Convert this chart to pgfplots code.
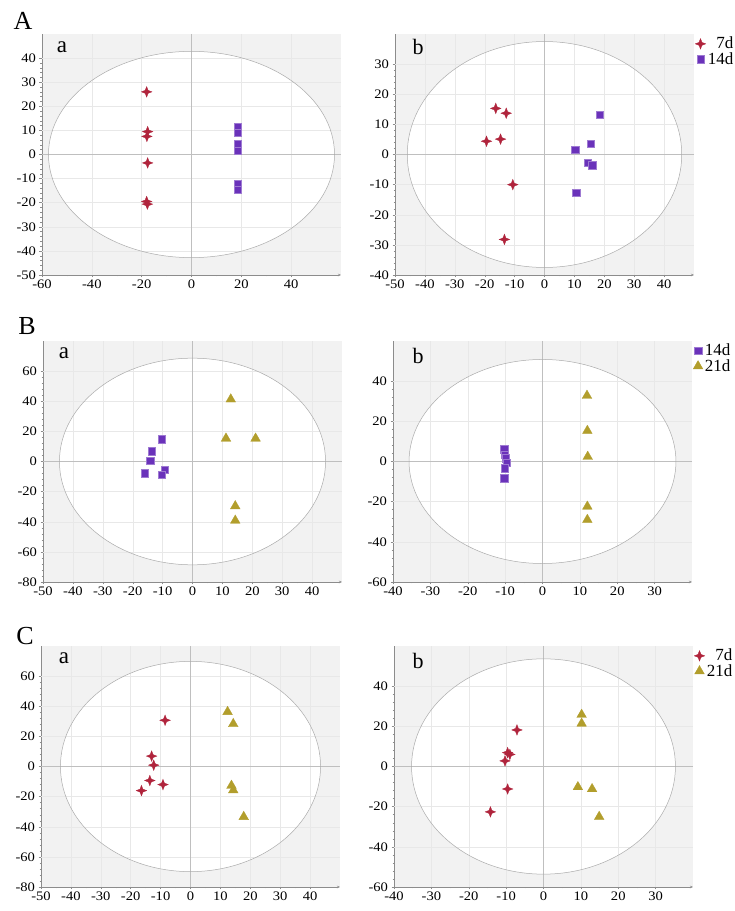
\documentclass[border=0pt]{standalone}
\usepackage{fontspec}
\setmainfont{Liberation Serif}
\newfontfamily\tickfont[FakeStretch=1.12]{Liberation Serif}
\usepackage{pgfplots}
\pgfplotsset{compat=1.18}
\usetikzlibrary{arrows.meta}

\definecolor{cRed}{RGB}{176,36,60}
\definecolor{cPur}{RGB}{106,50,186}
\definecolor{cOli}{RGB}{178,158,44}

\pgfdeclareplotmark{star4}{%
 \pgfpathmoveto{\pgfqpoint{0pt}{\pgfplotmarksize}}%
 \pgfpathlineto{\pgfqpoint{0.28\pgfplotmarksize}{0.28\pgfplotmarksize}}%
 \pgfpathlineto{\pgfqpoint{\pgfplotmarksize}{0pt}}%
 \pgfpathlineto{\pgfqpoint{0.28\pgfplotmarksize}{-0.28\pgfplotmarksize}}%
 \pgfpathlineto{\pgfqpoint{0pt}{-\pgfplotmarksize}}%
 \pgfpathlineto{\pgfqpoint{-0.28\pgfplotmarksize}{-0.28\pgfplotmarksize}}%
 \pgfpathlineto{\pgfqpoint{-\pgfplotmarksize}{0pt}}%
 \pgfpathlineto{\pgfqpoint{-0.28\pgfplotmarksize}{0.28\pgfplotmarksize}}%
 \pgfpathclose
 \pgfusepathqfillstroke}

\pgfplotsset{
 pca/.style={
  scale only axis, width=299pt, height=241pt,
  anchor=south west,
  axis lines*=left,
  axis background/.style={fill=black!5},
  axis line style={black!45, line width=0.5pt},
  x axis line style={-{Stealth[length=3pt,width=2.5pt]}},
  tick style={black!45, line width=0.4pt},
  major tick length=2.5pt, minor tick length=1.5pt,
  tick align=outside,
  minor x tick num=1, minor y tick num=4,
  /pgf/number format/assume math mode=true,
  xticklabel={\pgfmathprintnumber{\tick}},
  yticklabel={\pgfmathprintnumber{\tick}},
  tick label style={font=\tickfont\fontsize{13}{13}\selectfont},
  xticklabel style={yshift=1pt},
  yticklabel style={xshift=0pt},
  legend style={at={(axis description cs:1,1)}, anchor=north west,
   xshift=1pt, yshift=-1pt, draw=none, fill=none, inner sep=0pt,
   row sep=-2pt, font=\fontsize{17}{17}\selectfont},
  legend cell align=right,
  legend image code/.code={\draw[mark repeat=2,mark phase=2,#1] plot coordinates {(0pt,0pt) (5pt,0pt) (10pt,0pt)};},
 },
 s7/.style={only marks, mark=star4, mark size=5.3pt, color=cRed, mark options={fill=cRed, draw=cRed, line width=0.3pt}},
 s14/.style={only marks, mark=square*, mark size=3.7pt, color=cPur, mark options={fill=cPur, draw=cPur!65!white, line width=0.4pt}},
 s21/.style={only marks, mark=triangle*, mark size=5.6pt, color=cOli, mark options={fill=cOli, draw=cOli, line width=0.3pt}},
}

% #1 rx, #2 ry, #3 xmax (=-xmin), #4 ymax (=-ymin), #5 x grid list, #6 y grid list
\newcommand{\hotel}[6]{%
 \fill[white] (axis cs:0,0) ellipse [x radius=#1, y radius=#2];
 \pgfplotsinvokeforeach{#5}{\draw[black!9, line width=0.4pt] (axis cs:##1,-#4) -- (axis cs:##1,#4);}
 \pgfplotsinvokeforeach{#6}{\draw[black!9, line width=0.4pt] (axis cs:-#3,##1) -- (axis cs:#3,##1);}
 \draw[black!25, line width=1pt] (axis cs:0,#4) -- (axis cs:0,-#4);
 \draw[black!25, line width=1pt] (axis cs:#3,0) -- (axis cs:-#3,0);
 \draw[black!33, line width=0.5pt] (axis cs:0,0) ellipse [x radius=#1, y radius=#2];
}

\begin{document}
\begin{tikzpicture}
\useasboundingbox (0pt,0pt) rectangle (735pt,911pt);

\node[font=\fontsize{26}{26}\selectfont] at (23pt,890pt) {A};
\node[font=\fontsize{26}{26}\selectfont] at (27pt,585pt) {B};
\node[font=\fontsize{26}{26}\selectfont] at (25pt,275pt) {C};

% ---------- A a ----------
\begin{axis}[pca, at={(42pt,636pt)},
  xmin=-60, xmax=60, ymin=-50, ymax=50,
  xtick={-60,-40,...,40}, ytick={-50,-40,...,40}]
 \hotel{57.4}{42.8}{60}{50}{-40,-20,20,40}{-40,-30,-20,-10,10,20,30,40}
 \addplot[s7] coordinates {(-18,26) (-17.6,9.5) (-17.9,7.5) (-17.6,-3.5) (-18,-19.5) (-17.7,-20.6)};
 \addplot[s14] coordinates {(18.5,11.3) (18.5,9) (18.5,4.3) (18.5,1.6) (18.5,-12.3) (18.5,-14.6)};
 \node[font=\fontsize{23}{23}\selectfont] at ([xshift=20pt,yshift=-13pt]rel axis cs:0,1) {a};
\end{axis}

% ---------- A b ----------
\begin{axis}[pca, at={(395pt,636pt)},
  xmin=-50, xmax=50, ymin=-40, ymax=40,
  xtick={-50,-40,...,40}, ytick={-40,-30,...,30}]
 \hotel{45.9}{37.5}{50}{40}{-40,-30,-20,-10,10,20,30,40}{-30,-20,-10,10,20,30}
 \addplot[s7] coordinates {(-16.3,15.3) (-12.8,13.7) (-19.4,4.4) (-14.7,5.1) (-10.6,-10.0) (-13.4,-28.2)};
 \addplot[s14] coordinates {(18.4,13.3) (15.4,3.6) (10.3,1.6) (14.5,-2.7) (16.0,-3.5) (10.6,-12.7)};
 \legend{7d,14d}
 \node[font=\fontsize{22}{22}\selectfont] at ([xshift=23pt,yshift=-13pt]rel axis cs:0,1) {b};
\end{axis}

% ---------- B a ----------
\begin{axis}[pca, at={(43pt,329pt)},
  xmin=-50, xmax=50, ymin=-80, ymax=80,
  xtick={-50,-40,...,40}, ytick={-80,-60,...,60}]
 \hotel{44.5}{68.6}{50}{80}{-40,-30,-20,-10,10,20,30,40}{-60,-40,-20,20,40,60}
 \addplot[s14] coordinates {(-10.4,14.9) (-13.7,6.8) (-14.2,0.4) (-15.9,-7.9) (-9.2,-5.3) (-10.3,-8.8)};
 \addplot[s21] coordinates {(12.8,41.3) (11.2,15.3) (21.1,15.3) (14.3,-29.6) (14.3,-39.2)};
 \node[font=\fontsize{23}{23}\selectfont] at ([xshift=21pt,yshift=-12pt]rel axis cs:0,1) {a};
\end{axis}

% ---------- B b ----------
\begin{axis}[pca, at={(393pt,329pt)},
  xmin=-40, xmax=40, ymin=-60, ymax=60,
  xtick={-40,-30,...,30}, ytick={-60,-40,...,40}]
 \hotel{35.7}{50.8}{40}{60}{-30,-20,-10,10,20,30}{-40,-20,20,40}
 \addplot[s14] coordinates {(-10.3,6.1) (-10.1,3.3) (-9.8,1.6) (-9.5,-0.7) (-10.1,-3.3) (-10.3,-8.3)};
 \addplot[s21] coordinates {(11.9,32.8) (12,15.3) (12.1,2.4) (12,-22.4) (12,-29)};
 \legend{14d,21d}
 \node[font=\fontsize{22}{22}\selectfont] at ([xshift=25pt,yshift=-15pt]rel axis cs:0,1) {b};
\end{axis}

% ---------- C a ----------
\begin{axis}[pca, at={(41pt,24pt)},
  xmin=-50, xmax=50, ymin=-80, ymax=80,
  xtick={-50,-40,...,40}, ytick={-80,-60,...,60}]
 \hotel{43.5}{69.8}{50}{80}{-40,-30,-20,-10,10,20,30,40}{-60,-40,-20,20,40,60}
 \addplot[s7] coordinates {(-8.5,30.7) (-13.0,6.9) (-12.3,0.9) (-13.6,-9.3) (-9.2,-12) (-16.4,-16)};
 \addplot[s21] coordinates {(12.4,36.3) (14.3,28.3) (13.7,-12.7) (14.3,-15.7) (17.8,-33.4)};
 \node[font=\fontsize{23}{23}\selectfont] at ([xshift=23pt,yshift=-12pt]rel axis cs:0,1) {a};
\end{axis}

% ---------- C b ----------
\begin{axis}[pca, at={(394pt,24pt)},
  xmin=-40, xmax=40, ymin=-60, ymax=60,
  xtick={-40,-30,...,30}, ytick={-60,-40,...,40}]
 \hotel{35.3}{53.6}{40}{60}{-30,-20,-10,10,20,30}{-40,-20,20,40}
 \addplot[s7] coordinates {(-7.1,18.2) (-9.6,6.9) (-9.0,6.0) (-10.3,2.8) (-9.6,-11.2) (-14.2,-22.6)};
 \addplot[s21] coordinates {(10.2,25.8) (10.2,21.4) (9.2,-10.2) (13.0,-11.2) (14.9,-25)};
 \legend{7d,21d}
 \node[font=\fontsize{22}{22}\selectfont] at ([xshift=24pt,yshift=-15pt]rel axis cs:0,1) {b};
\end{axis}
\end{tikzpicture}
\end{document}
